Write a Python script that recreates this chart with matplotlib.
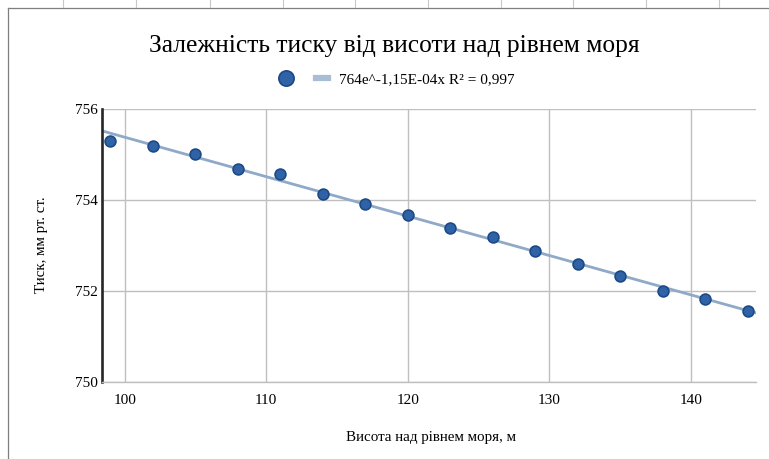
import numpy as np
import matplotlib
matplotlib.use("Agg")
import matplotlib.pyplot as plt
from matplotlib.lines import Line2D

# altitude (m) and pressure (mm Hg)
height = [99, 102, 105, 108, 111, 114, 117, 120, 123, 126, 129, 132, 135, 138, 141, 144]
pressure = [755.30, 755.19, 755.01, 754.68, 754.57, 754.14, 753.92, 753.68,
            753.39, 753.19, 752.89, 752.60, 752.32, 752.01, 751.83, 751.55]
x_ticks = [100, 110, 120, 130, 140]
y_ticks = [750, 752, 754, 756]
trend_label = "764e^-1,15E-04x R² = 0,997"

plt.rcParams['font.family'] = ['Liberation Serif', 'DejaVu Serif']

W, H = 769, 459
fig = plt.figure(figsize=(W / 100, H / 100), dpi=100)
ax = fig.add_axes([102 / W, 1 - 382 / H, (756 - 102) / W, (382 - 109) / H])

xlim = (98.4, 144.6)
ax.set_xlim(*xlim)
ax.set_ylim(750, 756)

# exponential trend line, fitted to the points like Excel does
b, ln_a = np.polyfit(height, np.log(pressure), 1)
xs = np.linspace(xlim[0], xlim[1], 100)
ax.plot(xs, np.exp(ln_a) * np.exp(b * xs), color="#8FA9C8", lw=2.0, zorder=2)

ax.plot(height, pressure, ls="none", marker="o", ms=7.8, mfc="#2F62A6",
        mec="#1C4A85", mew=1.2, zorder=3)

ax.set_xticks(x_ticks)
ax.set_yticks(y_ticks)
ax.grid(True, color="#BFBFBF", lw=1.0)
ax.set_axisbelow(True)
ax.tick_params(length=0, labelsize=11, pad=9)
ax.tick_params(axis="y", pad=3)
for s in ("top", "right"):
    ax.spines[s].set_visible(False)
ax.spines["bottom"].set_color("#BFBFBF")
ax.spines["bottom"].set_linewidth(1.0)
ax.spines["left"].set_color("#262626")
ax.spines["left"].set_linewidth(1.9)

fig.text(394 / W, 1 - 46 / H, "Залежність тиску від висоти над рівнем моря",
         ha="center", va="center", fontsize=18.4)
fig.text(431 / W, 1 - 437 / H, "Висота над рівнем моря, м",
         ha="center", va="center", fontsize=10.8)
fig.text(41 / W, 1 - 245 / H, "Тиск, мм рт. ст.", rotation=90,
         ha="center", va="center", fontsize=10.8)

handles = [
    Line2D([], [], ls="none", marker="o", ms=11, mfc="#2F62A6", mec="#1C4A85", mew=1.2),
    Line2D([], [], color="#A9BDD6", lw=4.5),
]
fig.legend(handles, ["", trend_label], loc="center", ncol=2,
           bbox_to_anchor=(397 / W, 1 - 79 / H), frameon=False,
           fontsize=11, handlelength=0.8, columnspacing=0.9, handletextpad=0.7)

# surrounding chart frame and spreadsheet cell marks
fig.add_artist(Line2D([8 / W, 8 / W], [0, 1 - 8 / H], color="#7F7F7F", lw=0.9))
fig.add_artist(Line2D([8 / W, 1], [1 - 8 / H, 1 - 8 / H], color="#7F7F7F", lw=0.9))
for cx in [63, 136, 210, 283, 355, 428, 501, 573, 646, 719]:
    fig.add_artist(Line2D([cx / W, cx / W], [1 - 7 / H, 1], color="#C8C8C8", lw=0.8))

fig.savefig("out.png", dpi=100)
